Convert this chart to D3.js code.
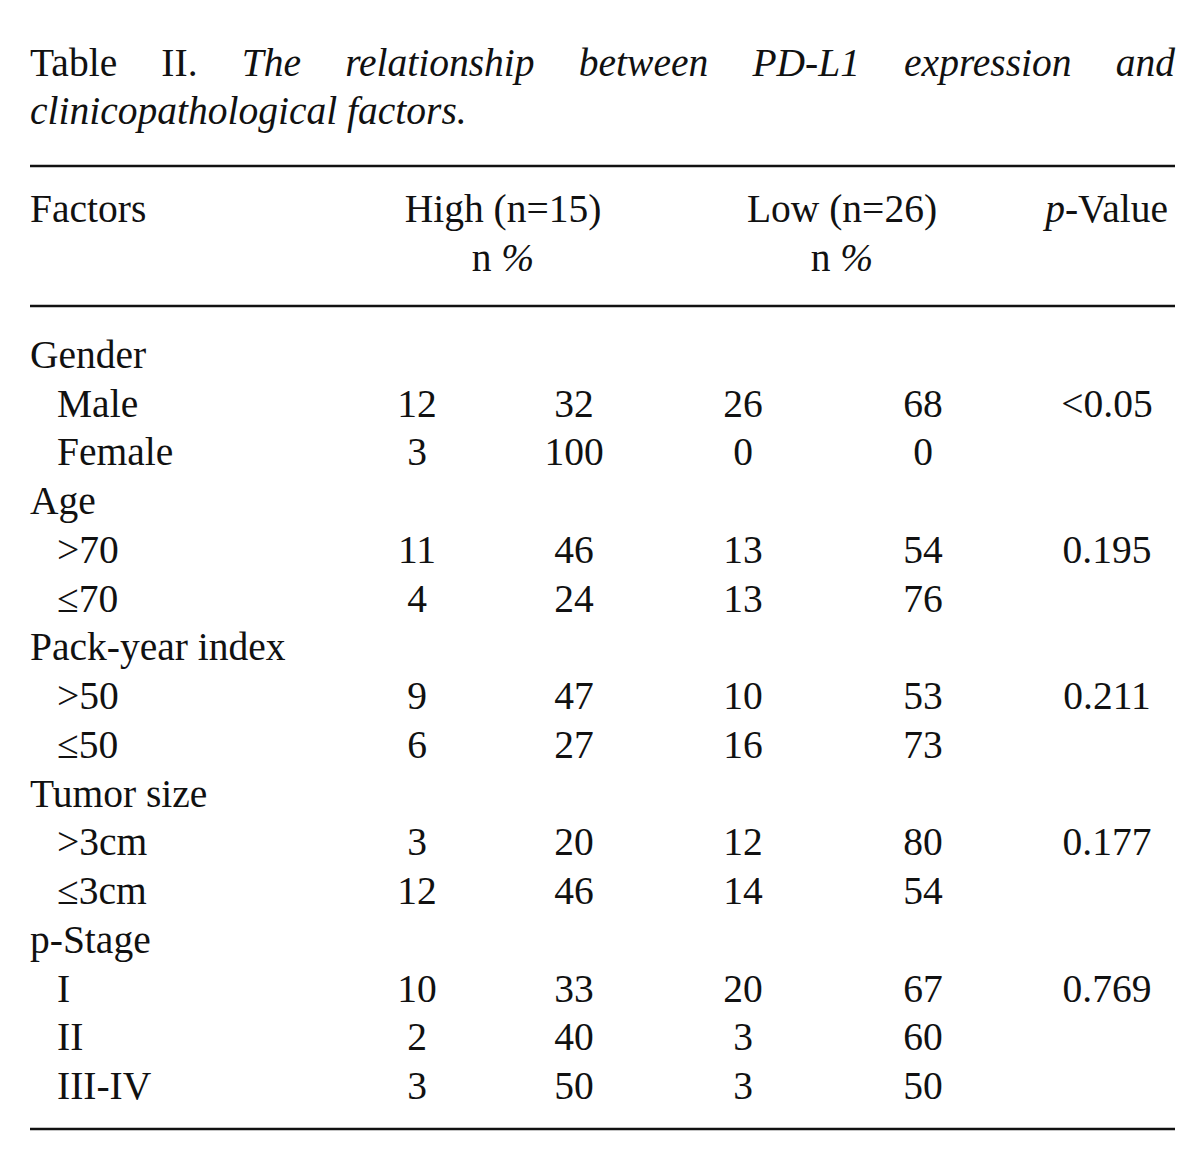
<!DOCTYPE html>
<html><head><meta charset="utf-8">
<script src="https://cdn.jsdelivr.net/npm/d3@7"></script>
<style>
body{margin:0;background:#fff;}
svg text{font-family:"Liberation Serif","Times New Roman",serif;fill:#111;}
</style></head>
<body><svg id="c" width="1200" height="1170"></svg>
<script>
const titleWords = [["Table",false],["II.",false],["The",true],["relationship",true],["between",true],["PD-L1",true],["expression",true],["and",true]];
const titleLine2 = "clinicopathological factors.";
const groupHeaders = ["High (n=15)","Low (n=26)"];
const rowLabels = ["Gender","Male","Female","Age",">70","≤70","Pack-year index",">50","≤50","Tumor size",">3cm","≤3cm","p-Stage","I","II","III-IV"];
const isGroup = [1,0,0,1,0,0,1,0,0,1,0,0,1,0,0,0];
const highN =   [null,"12","3",null,"11","4",null,"9","6",null,"3","12",null,"10","2","3"];
const highPct = [null,"32","100",null,"46","24",null,"47","27",null,"20","46",null,"33","40","50"];
const lowN =    [null,"26","0",null,"13","13",null,"10","16",null,"12","14",null,"20","3","3"];
const lowPct =  [null,"68","0",null,"54","76",null,"53","73",null,"80","54",null,"67","60","50"];
const pValues = [null,"<0.05",null,null,"0.195",null,null,"0.211",null,null,"0.177",null,null,"0.769",null,null];

const svg = d3.select("#c");
const FS = 39.5;
const L = 30, R = 1175;

// Title line 1 (justified)
const tg = svg.append("g");
const tw = tg.selectAll("text").data(titleWords).join("text")
  .attr("y", 76).attr("font-size", FS)
  .attr("font-style", d => d[1] ? "italic" : "normal")
  .text(d => d[0]);
const widths = tw.nodes().map(n => n.getComputedTextLength());
const total = d3.sum(widths);
const gap = (R - L - total) / (titleWords.length - 1);
let xacc = L;
tw.attr("x", (d,i) => { const x = xacc; xacc += widths[i] + gap; return x; });
svg.append("text").attr("x", L).attr("y", 124).attr("font-size", FS)
  .attr("font-style","italic").text(titleLine2);

// Rules
const rules = [166, 306, 1129];
svg.selectAll("line.rule").data(rules).join("line").attr("class","rule")
  .attr("x1", L).attr("x2", R).attr("y1", d=>d).attr("y2", d=>d)
  .attr("stroke","#111").attr("stroke-width",2.6);

// Columns
const colX = d3.scaleOrdinal().domain(["hn","hp","ln","lp","p"]).range([417,574,743,923,1107]);
const groupX = d3.scaleOrdinal().domain(groupHeaders).range([503,842]);

// Header
svg.append("text").attr("x", L).attr("y", 222).attr("font-size", FS).text("Factors");
svg.selectAll("text.gh").data(groupHeaders).join("text").attr("class","gh")
  .attr("x", d => groupX(d)).attr("y",222).attr("font-size",FS).attr("text-anchor","middle").text(d=>d);
svg.selectAll("text.np").data(groupHeaders).join("text").attr("class","np")
  .attr("x", d => groupX(d)).attr("y",271).attr("font-size",FS).attr("text-anchor","middle")
  .each(function(){ const t=d3.select(this); t.append("tspan").text("n "); t.append("tspan").attr("font-style","italic").text("%"); });
const pv = svg.append("text").attr("x",1168).attr("y",222).attr("font-size",FS).attr("text-anchor","end");
pv.append("tspan").attr("font-style","italic").text("p");
pv.append("tspan").text("-Value");

// Rows
const y = d3.scaleLinear().domain([0, rowLabels.length-1]).range([368, 1099]);
const rows = svg.selectAll("g.row").data(rowLabels.map((r,i)=>({i,r}))).join("g").attr("class","row")
  .attr("transform", d => `translate(0,${y(d.i)})`);
rows.append("text").attr("x", d => isGroup[d.i] ? L : 57).attr("font-size",FS).text(d=>d.r);
const cols = [["hn",highN],["hp",highPct],["ln",lowN],["lp",lowPct],["p",pValues]];
cols.forEach(([k, arr]) => {
  rows.filter(d => arr[d.i] != null).append("text")
    .attr("x", colX(k)).attr("text-anchor","middle").attr("font-size",FS)
    .text(d => arr[d.i]);
});
</script></body></html>
